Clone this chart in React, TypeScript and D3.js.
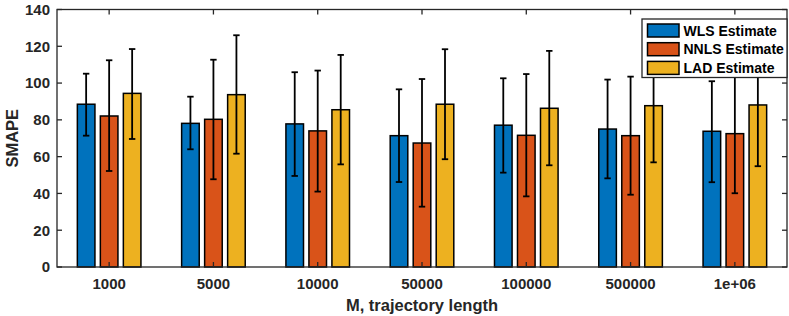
import { useMemo } from 'react'
import * as d3 from 'd3'

const categories = ['1000', '5000', '10000', '50000', '100000', '500000', '1e+06']
const seriesNames = ['WLS Estimate', 'NNLS Estimate', 'LAD Estimate']
const seriesColors = ['#0072BD', '#D95319', '#EDB120']

// mean values per trajectory length
const wlsMean = [88.5, 78.1, 77.8, 71.4, 77.1, 75.0, 73.8]
const nnlsMean = [82.1, 80.3, 74.0, 67.4, 71.6, 71.4, 72.5]
const ladMean = [94.4, 93.7, 85.5, 88.5, 86.3, 87.7, 88.1]

// error bar extents
const wlsLow = [71.4, 64.0, 49.5, 46.2, 51.3, 48.2, 46.1]
const wlsHigh = [105.1, 92.6, 105.9, 96.6, 102.6, 101.9, 101.0]
const nnlsLow = [52.2, 47.7, 41.0, 32.8, 38.4, 39.3, 40.1]
const nnlsHigh = [112.4, 112.7, 106.8, 102.2, 104.9, 103.5, 104.9]
const ladLow = [69.6, 61.6, 55.8, 58.6, 55.3, 56.9, 54.8]
const ladHigh = [118.5, 126.0, 115.3, 118.4, 117.5, 118.5, 121.4]

const yTicks = [0, 20, 40, 60, 80, 100, 120, 140]

const W = 789
const H = 316
const margin = { left: 57, right: 2, top: 9.5, bottom: 49 }
const axisColor = '#262626'
const font = 'Liberation Sans, Arial, Helvetica, sans-serif'

export default function App() {
    const series = [
        { name: seriesNames[0], mean: wlsMean, low: wlsLow, high: wlsHigh, color: seriesColors[0] },
        { name: seriesNames[1], mean: nnlsMean, low: nnlsLow, high: nnlsHigh, color: seriesColors[1] },
        { name: seriesNames[2], mean: ladMean, low: ladLow, high: ladHigh, color: seriesColors[2] }
    ]

    const x0 = margin.left
    const x1 = W - margin.right
    const y0 = H - margin.bottom
    const y1 = margin.top

    const xScale = useMemo(() => d3.scaleBand<string>().domain(categories).range([x0, x1]), [])
    const inner = useMemo(
        () =>
            d3
                .scaleBand<string>()
                .domain(seriesNames)
                .range([-34.5, 34.5])
                .paddingInner(0.17)
                .paddingOuter(0.085),
        []
    )
    const yScale = useMemo(() => d3.scaleLinear().domain([0, 140]).range([y0, y1]), [])

    const bw = inner.bandwidth()
    const center = (c: string) => (xScale(c) as number) + xScale.bandwidth() / 2

    const legend = { x: 642, y: 19, w: 145, h: 58.5, row: 18.7 }

    return (
        <svg width={W} height={H} style={{ position: 'absolute', left: 0, top: 0 }}>
            <rect width={W} height={H} fill="white" />
            {/* bars */}
            {series.map((s) => (
                <g key={s.name}>
                    {categories.map((c, i) => (
                        <rect
                            key={c}
                            x={center(c) + (inner(s.name) as number) + 0.75}
                            y={yScale(s.mean[i])}
                            width={bw - 1.5}
                            height={yScale(0) - yScale(s.mean[i])}
                            fill={s.color}
                            stroke="black"
                            strokeWidth={1.5}
                        />
                    ))}
                </g>
            ))}
            {/* error bars */}
            {series.map((s) => (
                <g key={s.name + '-err'} stroke="black" strokeWidth={1.8}>
                    {categories.map((c, i) => {
                        const cx = center(c) + (inner(s.name) as number) + bw / 2
                        return (
                            <g key={c}>
                                <line x1={cx} x2={cx} y1={yScale(s.low[i])} y2={yScale(s.high[i])} />
                                <line x1={cx - 3.2} x2={cx + 3.2} y1={yScale(s.low[i])} y2={yScale(s.low[i])} />
                                <line x1={cx - 3.2} x2={cx + 3.2} y1={yScale(s.high[i])} y2={yScale(s.high[i])} />
                            </g>
                        )
                    })}
                </g>
            ))}
            {/* axes box and ticks */}
            <g stroke={axisColor} strokeWidth={1.3} fill="none">
                <rect x={x0} y={y1} width={x1 - x0} height={y0 - y1} />
                {yTicks.map((t) => (
                    <g key={t}>
                        <line x1={x0} x2={x0 + 5} y1={yScale(t)} y2={yScale(t)} />
                        <line x1={x1} x2={x1 - 5} y1={yScale(t)} y2={yScale(t)} />
                    </g>
                ))}
                {categories.map((c) => (
                    <g key={c}>
                        <line x1={center(c)} x2={center(c)} y1={y0} y2={y0 - 5} />
                        <line x1={center(c)} x2={center(c)} y1={y1} y2={y1 + 5} />
                    </g>
                ))}
            </g>
            {/* tick labels */}
            <g fontFamily={font} fontSize={15} fontWeight="bold" fill={axisColor}>
                {yTicks.map((t) => (
                    <text key={t} x={x0 - 7} y={yScale(t) + 5.3} textAnchor="end">
                        {t}
                    </text>
                ))}
                {categories.map((c) => (
                    <text key={c} x={center(c)} y={288.5} textAnchor="middle">
                        {c}
                    </text>
                ))}
            </g>
            {/* axis labels */}
            <text
                x={(x0 + x1) / 2}
                y={311}
                textAnchor="middle"
                fontFamily={font}
                fontSize={16.5}
                fontWeight="bold"
                fill={axisColor}
            >
                M, trajectory length
            </text>
            <text
                transform={`translate(18,${(y0 + y1) / 2}) rotate(-90)`}
                textAnchor="middle"
                fontFamily={font}
                fontSize={16.5}
                fontWeight="bold"
                fill={axisColor}
            >
                SMAPE
            </text>
            {/* legend */}
            <g>
                <rect
                    x={legend.x}
                    y={legend.y}
                    width={legend.w}
                    height={legend.h}
                    fill="white"
                    stroke={axisColor}
                    strokeWidth={1.3}
                />
                {series.map((s, i) => (
                    <g key={s.name + '-leg'}>
                        <rect
                            x={legend.x + 5.5}
                            y={legend.y + 5 + i * legend.row}
                            width={31.5}
                            height={13}
                            fill={s.color}
                            stroke="black"
                            strokeWidth={1.5}
                        />
                        <text
                            x={legend.x + 41.5}
                            y={legend.y + 16.5 + i * legend.row}
                            fontFamily={font}
                            fontSize={14}
                            fontWeight="bold"
                            fill="black"
                        >
                            {s.name}
                        </text>
                    </g>
                ))}
            </g>
        </svg>
    )
}
